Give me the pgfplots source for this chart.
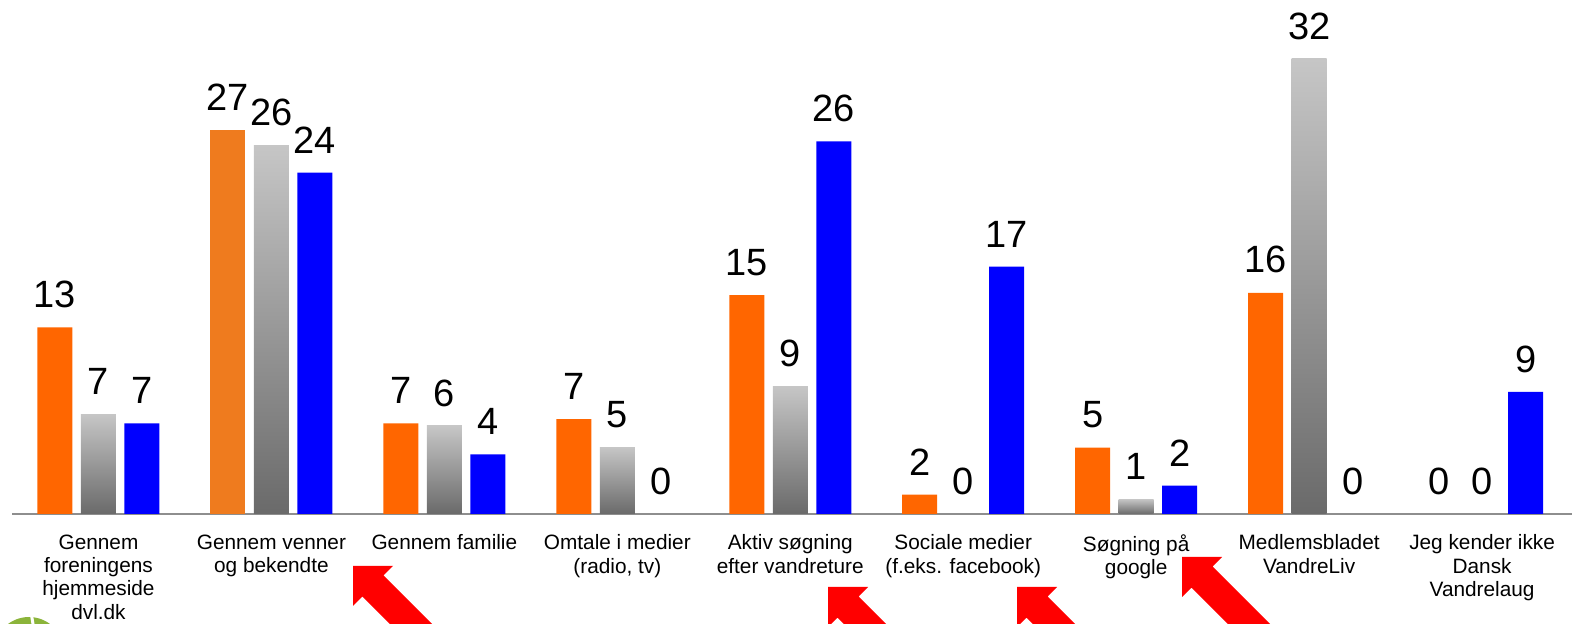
\documentclass[border=0pt]{standalone}
\usepackage{pgfplots}
\pgfplotsset{compat=1.18}
\usepackage{fontspec}
\setmainfont{Liberation Sans}

\definecolor{barorange}{HTML}{FF6600}
\definecolor{barorangeb}{HTML}{EF7B1E}
\definecolor{barblue}{HTML}{0000FF}
\definecolor{graytop}{HTML}{C6C6C6}
\definecolor{graybot}{HTML}{6A6A6A}
\definecolor{axisgray}{HTML}{8E8E8E}
\definecolor{arrowred}{HTML}{FF0000}
\definecolor{logogreen}{HTML}{8BB43A}

\newcommand\valfont{\fontsize{19}{22}\selectfont}
\newcommand\catfont{\fontsize{10.4}{11.65}\selectfont}

% block arrow, tip at (#1,#2) in pixel units
\newcommand\redarrow[2]{%
  \fill[arrowred] (#1,#2) -- ++(40,0) -- ++(-9.4,9.4) -- ++(200,200)
    -- ++(-21.2,21.2) -- ++(-200,-200) -- ++(-9.4,9.4) -- cycle;}

\begin{document}
\begin{tikzpicture}
  \path[use as bounding box, clip] (0,0) rectangle (786pt,312pt);
  \begin{axis}[
      at={(6pt,55pt)}, anchor=south west,
      scale only axis,
      width=780pt, height=257pt,
      xmin=-0.5, xmax=8.52,
      ymin=0, ymax=36.15,
      axis y line=none,
      axis x line=bottom,
      x axis line style={-, draw=axisgray, line width=1pt},
      xtick={0,...,8},
      xticklabels={
        {Gennem\\foreningens\\hjemmeside\\dvl.dk},
        {Gennem venner\\og bekendte},
        {Gennem familie},
        {Omtale i medier\\(radio, tv)},
        {Aktiv søgning\\efter vandreture},
        {Sociale medier\\(f.eks. facebook)},
        {Søgning på\\google},
        {Medlemsbladet\\VandreLiv},
        {Jeg kender ikke\\Dansk\\Vandrelaug}},
      major tick length=0pt,
      xticklabel style={font=\catfont, align=center, yshift=-6.8pt},
      ybar,
      bar width=17.5pt,
      point meta=explicit symbolic,
      nodes near coords,
      every node near coord/.append style={font=\valfont, text=black, anchor=south,
        inner sep=0pt, yshift=9.5pt},
      clip=false,
      gray bar/.style={bar shift=0pt, draw=none, top color=graytop, bottom color=graybot}
    ]
    % orange series (bar height as drawn, label as printed)
    \addplot[bar shift=-21.75pt, draw=none, fill=barorange]
      coordinates {(0,13.13) [13] (2,6.38) [7] (3,6.68) [7] (4,15.4) [15]
                   (5,1.36) [2] (6,4.66) [5] (7,15.56) [16]};
    \addplot[bar shift=-21.75pt, draw=none, fill=barorangeb]
      coordinates {(1,27.0) [27]};
    \addplot[bar shift=-21.75pt, draw=none, fill=none]
      coordinates {(8,0) [0]};
    % gray series, one plot per bar so that each bar gets its own shading
    \addplot[gray bar] coordinates {(0,7.03) [7]};
    \addplot[gray bar] coordinates {(1,25.95) [26]};
    \addplot[gray bar] coordinates {(2,6.19) [6]};
    \addplot[gray bar] coordinates {(3,4.71) [5]};
    \addplot[gray bar] coordinates {(4,9.0) [9]};
    \addplot[gray bar] coordinates {(6,1.05) [1]};
    \addplot[gray bar] coordinates {(7,32.0) [32]};
    \addplot[bar shift=0pt, draw=none, fill=none]
      coordinates {(5,0) [0] (8,0) [0]};
    % blue series
    \addplot[bar shift=21.75pt, draw=none, fill=barblue]
      coordinates {(0,6.38) [7] (1,24.0) [24] (2,4.2) [4] (4,26.2) [26]
                   (5,17.4) [17] (6,1.99) [2] (8,8.58) [9]};
    \addplot[bar shift=21.75pt, draw=none, fill=none]
      coordinates {(3,0) [0] (7,0) [0]};
  \end{axis}
  \begin{scope}[shift={(0pt,312pt)}, x=0.5pt, y=-0.5pt]
    \fill[logogreen] (29,652) circle[radius=35];
    \draw[white, line width=1.5pt] (31,612) -- (34,630);
    \redarrow{353}{566}
    \redarrow{828}{587}
    \redarrow{1017}{587}
    \redarrow{1182}{557}
  \end{scope}
\end{tikzpicture}
\end{document}
